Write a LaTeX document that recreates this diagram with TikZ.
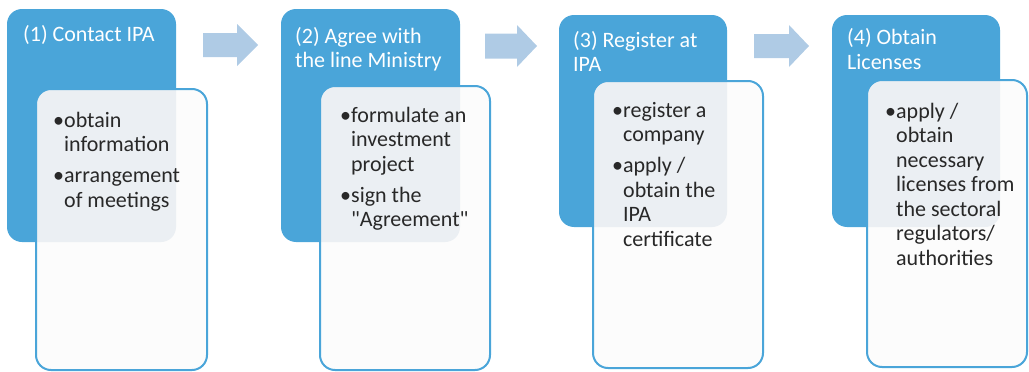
\documentclass[tikz,border=0pt]{standalone}
\usepackage{fontspec}
\setmainfont{Carlito}[Ligatures=TeXOff]
\definecolor{stepblue}{RGB}{74,165,217}
\definecolor{arrowblue}{RGB}{175,203,229}
\definecolor{cardfill}{RGB}{252,252,252}
\definecolor{cardover}{RGB}{235,239,243}
\definecolor{bodytext}{RGB}{40,40,40}
\newcommand\stepfont{\fontsize{22}{24.5}\selectfont}
\newcommand\itemgap{\\[6.5pt]}
\newcommand\hang{\hphantom{•}}
\begin{document}
\begin{tikzpicture}[x=1pt,y=-1pt,
  header/.style={rectangle, rounded corners=15pt, fill=stepblue, inner sep=0pt, outer sep=0pt},
  card/.style={rectangle, rounded corners=15pt, fill=cardfill, inner sep=0pt, outer sep=0pt},
  cardborder/.style={draw=stepblue, line width=2pt, rounded corners=15pt},
  blockarrow/.style={fill=arrowblue},
  title/.style={anchor=base west, inner sep=0pt, text=white, font=\stepfont},
  body/.style={anchor=base west, inner sep=0pt, text=bodytext, font=\stepfont}
]
\useasboundingbox (0,0) rectangle (1029,372);

% header panels
\node[header, minimum width=169, minimum height=233] (h1) at (91.5,125.5) {};
\node[header, minimum width=179, minimum height=233] (h2) at (370.5,125.5) {};
\node[header, minimum width=168, minimum height=212] (h3) at (643,121) {};
\node[header, minimum width=168, minimum height=212] (h4) at (916,121) {};

% detail cards
\node[card, minimum width=171, minimum height=281] (c1) at (121.5,229.5) {};
\node[card, minimum width=170, minimum height=284] (c2) at (405,228) {};
\node[card, minimum width=170, minimum height=287] (c3) at (678,224.5) {};
\node[card, minimum width=160, minimum height=287] (c4) at (947,223.5) {};

% tinted part of each card where it lies over its header
\foreach \i in {1,2,3,4}{
  \begin{scope}
    \clip[rounded corners=15pt] (h\i.north west) rectangle (h\i.south east);
    \fill[cardover, rounded corners=15pt] (c\i.north west) rectangle (c\i.south east);
  \end{scope}
  \draw[cardborder] (c\i.north west) rectangle (c\i.south east);
}

% block arrows between the steps
\fill[blockarrow] (203,33) -- (237,33) -- (237,24) -- (258,45) -- (237,66) -- (237,57) -- (203,57) -- cycle;
\fill[blockarrow] (485,33.5) -- (517,33.5) -- (517,25) -- (537,46) -- (517,67) -- (517,58.5) -- (485,58.5) -- cycle;
\fill[blockarrow] (754,34) -- (789,34) -- (789,25) -- (809,46) -- (789,67) -- (789,58) -- (754,58) -- cycle;

% step titles
\node[title] (t1) at (23,41) {(1) Contact IPA};
\node[title] (t2) at (295,43) {\parbox[t]{170pt}{\raggedright(2) Agree with\\the line Ministry}};
\node[title] (t3) at (573,47) {\parbox[t]{160pt}{\raggedright(3) Register at\\IPA}};
\node[title] (t4) at (847,45) {\parbox[t]{160pt}{\raggedright(4) Obtain\\Licenses}};

% step details
\node[body] (b1) at (53,127) {\parbox[t]{160pt}{\raggedright
  •obtain\\\hang information\itemgap
  •arrangement\\\hang of meetings}};
\node[body] (b2) at (340,122) {\parbox[t]{160pt}{\raggedright
  •formulate an\\\hang investment\\\hang project\itemgap
  •sign the\\\hang "Agreement"}};
\node[body] (b3) at (612,117) {\parbox[t]{160pt}{\raggedright
  •register a\\\hang company\itemgap
  •apply /\\\hang obtain the\\\hang IPA\\\hang certificate}};
\node[body] (b4) at (885,118) {\parbox[t]{160pt}{\raggedright
  •apply /\\\hang obtain\\\hang necessary\\\hang licenses from\\\hang the sectoral\\\hang regulators/\\\hang authorities}};
\end{tikzpicture}
\end{document}
